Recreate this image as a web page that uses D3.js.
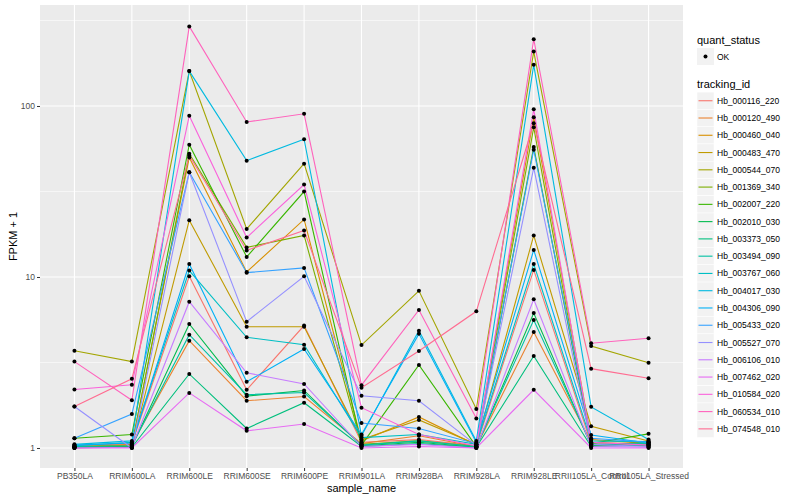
<!DOCTYPE html>
<html>
<head>
<meta charset="utf-8">
<script src="https://cdn.jsdelivr.net/npm/d3@7"></script>
<style>
  body { margin: 0; background: #fff; }
  text { font-family: "Liberation Sans", Arial, sans-serif; }
</style>
</head>
<body>
<div id="chart"></div>
<script>
var samples = ["PB350LA", "RRIM600LA", "RRIM600LE", "RRIM600SE", "RRIM600PE", "RRIM901LA",
  "RRIM928BA", "RRIM928LA", "RRIM928LE", "RRII105LA_Control", "RRII105LA_Stressed"];

var trackingIds = ["Hb_000116_220", "Hb_000120_490", "Hb_000460_040", "Hb_000483_470", "Hb_000544_070",
  "Hb_001369_340", "Hb_002007_220", "Hb_002010_030", "Hb_003373_050", "Hb_003494_090",
  "Hb_003767_060", "Hb_004017_030", "Hb_004306_090", "Hb_005433_020", "Hb_005527_070",
  "Hb_006106_010", "Hb_007462_020", "Hb_010584_020", "Hb_060534_010", "Hb_074548_010"];

var colors = ["#F8766D", "#EA8331", "#D89000", "#C09B00", "#A3A500", "#7CAE00", "#39B600", "#00BB4E",
  "#00BF7D", "#00C1A3", "#00BFC4", "#00BAE0", "#00B0F6", "#35A2FF", "#9590FF", "#C77CFF",
  "#E76BF3", "#FA62DB", "#FF62BC", "#FF6C91"];

// FPKM + 1, one row per tracking_id, columns in samples order
var fpkm = [
  [1.03, 1.06, 10.1, 2.19, 5.2, 1.08, 1.12, 1.03, 11.0, 1.06, 1.03],
  [1.02, 1.05, 4.24, 1.89, 2.0, 1.06, 1.18, 1.02, 4.77, 1.08, 1.05],
  [1.01, 1.04, 50.0, 10.7, 21.7, 1.10, 1.52, 1.04, 86, 1.12, 1.06],
  [1.00, 1.02, 21.5, 5.12, 5.12, 1.12, 1.46, 1.05, 17.5, 1.34, 1.10],
  [3.7, 3.2, 160, 19.1, 46, 4.0, 8.3, 1.69, 208, 3.95, 3.15],
  [1.02, 1.03, 52.6, 14.9, 17.5, 1.05, 1.10, 1.02, 75, 1.04, 1.03],
  [1.14, 1.20, 59.4, 13.1, 31.6, 1.04, 3.06, 1.02, 57.5, 1.06, 1.21],
  [1.01, 1.02, 5.31, 2.01, 2.17, 1.03, 1.08, 1.01, 6.15, 1.03, 1.08],
  [1.01, 1.01, 2.71, 1.30, 1.84, 1.02, 1.06, 1.01, 3.45, 1.02, 1.04],
  [1.02, 1.03, 4.6, 2.05, 2.11, 1.04, 1.10, 1.02, 5.6, 1.05, 1.06],
  [1.03, 1.08, 10.9, 4.44, 4.02, 1.15, 1.20, 1.05, 11.9, 1.10, 1.09],
  [1.05, 1.10, 160, 47.9, 63.9, 1.18, 4.85, 1.10, 174, 1.74, 1.12],
  [1.04, 1.07, 11.9, 2.44, 3.79, 1.20, 4.65, 1.08, 14.4, 1.19, 1.07],
  [1.14, 1.58, 41, 10.6, 11.3, 1.40, 1.30, 1.06, 55.5, 1.14, 1.08],
  [1.75, 1.00, 41, 5.48, 10.1, 2.02, 1.89, 1.04, 43.5, 1.05, 1.02],
  [1.00, 1.01, 7.17, 2.75, 2.37, 1.02, 1.05, 1.00, 7.4, 1.02, 1.01],
  [1.00, 1.00, 2.1, 1.26, 1.38, 1.00, 1.02, 1.00, 2.19, 1.00, 1.00],
  [2.2, 2.34, 87.7, 17.0, 34.7, 1.72, 1.20, 1.03, 95.6, 1.08, 1.04],
  [3.2, 1.9, 292, 80.6, 90, 2.33, 6.41, 1.49, 246, 4.1, 4.38],
  [1.75, 2.54, 51.4, 14.3, 18.7, 2.25, 3.69, 6.3, 79.3, 2.91, 2.56]
];

var yMajor = [1, 10, 100];
var yMinor = [Math.pow(10, 0.5), Math.pow(10, 1.5), Math.pow(10, 2.5)];

var w = 800, h = 500;
var panel = { left: 40, right: 683, top: 5, bottom: 468 };

var svg = d3.select("#chart").append("svg")
  .attr("width", w)
  .attr("height", h);

svg.append("rect").attr("width", w).attr("height", h).attr("fill", "#fff");

var xScale = d3.scalePoint()
  .domain(samples)
  .range([panel.left, panel.right])
  .padding(0.6);

var yScale = d3.scaleLog()
  .domain([Math.pow(10, -0.117), Math.pow(10, 2.5906)])
  .range([panel.bottom, panel.top]);

svg.append("rect")
  .attr("x", panel.left)
  .attr("y", panel.top)
  .attr("width", panel.right - panel.left)
  .attr("height", panel.bottom - panel.top)
  .attr("fill", "#EBEBEB");

// grid
svg.selectAll(".minor").data(yMinor).enter().append("line")
  .attr("x1", panel.left).attr("x2", panel.right)
  .attr("y1", function(d) { return yScale(d); })
  .attr("y2", function(d) { return yScale(d); })
  .attr("stroke", "#fff").attr("stroke-width", 0.55);

svg.selectAll(".major").data(yMajor).enter().append("line")
  .attr("x1", panel.left).attr("x2", panel.right)
  .attr("y1", function(d) { return yScale(d); })
  .attr("y2", function(d) { return yScale(d); })
  .attr("stroke", "#fff").attr("stroke-width", 1.1);

svg.selectAll(".vgrid").data(samples).enter().append("line")
  .attr("x1", function(d) { return xScale(d); })
  .attr("x2", function(d) { return xScale(d); })
  .attr("y1", panel.top).attr("y2", panel.bottom)
  .attr("stroke", "#fff").attr("stroke-width", 1.1);

// lines
var line = d3.line()
  .x(function(d, i) { return xScale(samples[i]); })
  .y(function(d) { return yScale(d); });

svg.selectAll(".series").data(fpkm).enter().append("path")
  .attr("fill", "none")
  .attr("stroke", function(d, i) { return colors[i]; })
  .attr("stroke-width", 1.1)
  .attr("d", line);

// points
var points = [];
fpkm.forEach(function(row) {
  row.forEach(function(v, j) { points.push({ s: samples[j], v: v }); });
});

svg.selectAll(".pt").data(points).enter().append("circle")
  .attr("cx", function(d) { return xScale(d.s); })
  .attr("cy", function(d) { return yScale(d.v); })
  .attr("r", 2)
  .attr("fill", "#000");

// axes
var xAxis = svg.append("g")
  .attr("transform", "translate(0," + panel.bottom + ")")
  .call(d3.axisBottom(xScale).tickSize(3).tickPadding(2));

var yAxis = svg.append("g")
  .attr("transform", "translate(" + panel.left + ",0)")
  .call(d3.axisLeft(yScale).tickValues(yMajor).tickFormat(d3.format("d")).tickSize(3).tickPadding(2));

[xAxis, yAxis].forEach(function(g) {
  g.select(".domain").remove();
  g.selectAll(".tick line").attr("stroke", "#333").attr("stroke-width", 1);
  g.selectAll(".tick text").attr("fill", "#4D4D4D").style("font-size", "8.5px")
    .style("font-family", "'Liberation Sans', Arial, sans-serif");
});

svg.append("text")
  .text("sample_name")
  .attr("x", (panel.left + panel.right) / 2)
  .attr("y", 492)
  .attr("text-anchor", "middle")
  .attr("font-size", "11px")
  .attr("fill", "#000");

svg.append("text")
  .text("FPKM + 1")
  .attr("transform", "rotate(-90)")
  .attr("x", -(panel.top + panel.bottom) / 2)
  .attr("y", 17)
  .attr("text-anchor", "middle")
  .attr("font-size", "11px")
  .attr("fill", "#000");

// legend: quant_status
var lx = 697;
svg.append("text").text("quant_status")
  .attr("x", lx).attr("y", 44).attr("font-size", "11px").attr("fill", "#000");

svg.append("rect").attr("x", lx).attr("y", 48).attr("width", 17).attr("height", 17).attr("fill", "#F2F2F2");
svg.append("circle").attr("cx", lx + 8.5).attr("cy", 56.5).attr("r", 2).attr("fill", "#000");
svg.append("text").text("OK")
  .attr("x", lx + 20).attr("y", 59.5).attr("font-size", "8.5px").attr("fill", "#000");

// legend: tracking_id
svg.append("text").text("tracking_id")
  .attr("x", lx).attr("y", 88).attr("font-size", "11px").attr("fill", "#000");

var keyH = 17.27;
var keys = svg.selectAll(".key").data(trackingIds).enter().append("g")
  .attr("transform", function(d, i) { return "translate(" + lx + "," + (92.1 + i * keyH) + ")"; });

keys.append("rect").attr("width", 17).attr("height", keyH).attr("fill", "#F2F2F2")
  .attr("stroke", "#fff").attr("stroke-width", 0.5);
keys.append("line")
  .attr("x1", 1.5).attr("x2", 15.5)
  .attr("y1", keyH / 2).attr("y2", keyH / 2)
  .attr("stroke", function(d, i) { return colors[i]; })
  .attr("stroke-width", 1.1);
keys.append("text").text(function(d) { return d; })
  .attr("x", 20).attr("y", keyH / 2 + 3)
  .attr("font-size", "8.5px").attr("fill", "#000");
</script>
</body>
</html>
